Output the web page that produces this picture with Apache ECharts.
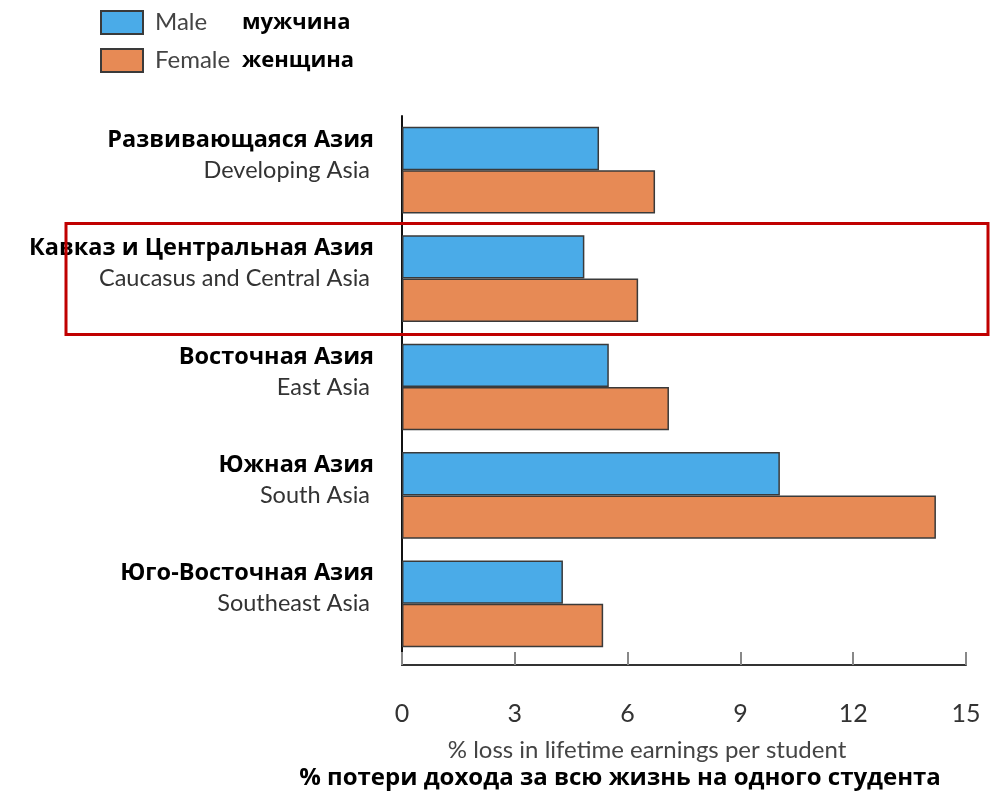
<!DOCTYPE html>
<html>
<head>
<meta charset="utf-8">
<script src="https://cdn.jsdelivr.net/npm/echarts@6/dist/echarts.min.js"></script>
<style>html,body{margin:0;padding:0;background:#fff;}#c{width:992px;height:792px;}</style>
</head>
<body>
<div id="c"></div>
<script>
const categoriesEn = ['Developing Asia', 'Caucasus and Central Asia', 'East Asia', 'South Asia', 'Southeast Asia'];
const categoriesRu = ['Развивающаяся Азия', 'Кавказ и Центральная Азия', 'Восточная Азия', 'Южная Азия', 'Юго-Восточная Азия'];
const maleValues = [5.24, 4.85, 5.5, 10.05, 4.28];
const femaleValues = [6.73, 6.28, 7.1, 14.2, 5.35];
const seriesNames = ['Male', 'Female'];
const seriesNamesRu = ['мужчина', 'женщина'];
const xTicks = [0, 3, 6, 9, 12, 15];
const xNameEn = '% loss in lifetime earnings per student';
const xNameRu = '% потери дохода за всю жизнь на одного студента';
const highlighted = 'Caucasus and Central Asia';

const chart = echarts.init(document.getElementById('c'), null, {renderer: 'canvas'});
const enFont = 'Lato';
const ruFont = '"Open Sans"';

const option = {
  animation: false,
  backgroundColor: '#fff',
  legend: {
    orient: 'vertical',
    left: 95, top: 5,
    itemWidth: 42, itemHeight: 23, itemGap: 13,
    icon: 'rect',
    data: seriesNames,
    formatter: function (n) {
      return '{en|' + n + '}{ru|' + seriesNamesRu[seriesNames.indexOf(n)] + '}';
    },
    textStyle: {
      rich: {
        en: {fontFamily: enFont, fontSize: 24, color: '#444', width: 87, padding: [0, 0, 0, 7]},
        ru: {fontFamily: ruFont, fontSize: 22, fontWeight: 'bold', color: '#000'}
      }
    }
  },
  grid: [
    {left: 402, right: 26, top: 116, bottom: 134},
    {left: 402, right: 26, top: 116, bottom: 127}
  ],
  xAxis: [
    {gridIndex: 0, type: 'value', min: 0, max: 15, interval: 3, show: false},
    {gridIndex: 1, type: 'value', min: xTicks[0], max: xTicks[xTicks.length - 1], interval: 3,
      axisLine: {show: true, lineStyle: {color: '#333', width: 2}},
      axisTick: {show: true, inside: true, length: 13, lineStyle: {color: '#888', width: 2}},
      axisLabel: {margin: 36, fontFamily: enFont, fontSize: 25, color: '#333'},
      splitLine: {show: false}
    }
  ],
  yAxis: [
    {gridIndex: 0, type: 'category', inverse: true, data: categoriesEn,
      axisLine: {show: false}, axisTick: {show: false},
      axisLabel: {
        margin: 28,
        formatter: function (v, i) {
          return '{ru|' + categoriesRu[i] + '}\n{en|' + v + '}';
        },
        padding: [0, 0, 30, 0],
        rich: {
          ru: {fontFamily: ruFont, fontSize: 23.5, fontWeight: 'bold', color: '#000', lineHeight: 30, align: 'right'},
          en: {fontFamily: enFont, fontSize: 23.5, color: '#333', lineHeight: 30, align: 'right', padding: [0, 4, 0, 0]}
        }
      }
    },
    {gridIndex: 1, type: 'value', min: 0, max: 1,
      axisLine: {show: true, lineStyle: {color: '#111', width: 2}},
      axisTick: {show: false}, axisLabel: {show: false}, splitLine: {show: false}
    }
  ],
  series: [
    {name: seriesNames[0], type: 'bar', xAxisIndex: 0, yAxisIndex: 0, data: maleValues,
      barGap: '0%', barCategoryGap: '20%',
      itemStyle: {color: '#4aabe8', borderColor: '#3a3a3a', borderWidth: 1.5}},
    {name: seriesNames[1], type: 'bar', xAxisIndex: 0, yAxisIndex: 0, data: femaleValues,
      barGap: '0%', barCategoryGap: '20%',
      itemStyle: {color: '#e78a55', borderColor: '#3a3a3a', borderWidth: 1.5}}
  ],
  graphic: [
    {type: 'text', style: {text: xNameEn, x: 647, y: 750, textAlign: 'center', textVerticalAlign: 'middle',
      fontFamily: enFont, fontSize: 24, fill: '#444'}},
    {type: 'text', style: {text: xNameRu, x: 620, y: 778, textAlign: 'center', textVerticalAlign: 'middle',
      fontFamily: ruFont, fontSize: 24, fontWeight: 'bold', fill: '#000'}}
  ]
};
chart.setOption(option);

const cy = chart.convertToPixel({yAxisIndex: 0}, highlighted);
chart.setOption({
  graphic: option.graphic.concat([
    {type: 'rect', shape: {x: 66, y: cy - 55, width: 922, height: 111},
      style: {fill: 'none', stroke: '#c00000', lineWidth: 3}, z: 100}
  ])
});
</script>
</body>
</html>
